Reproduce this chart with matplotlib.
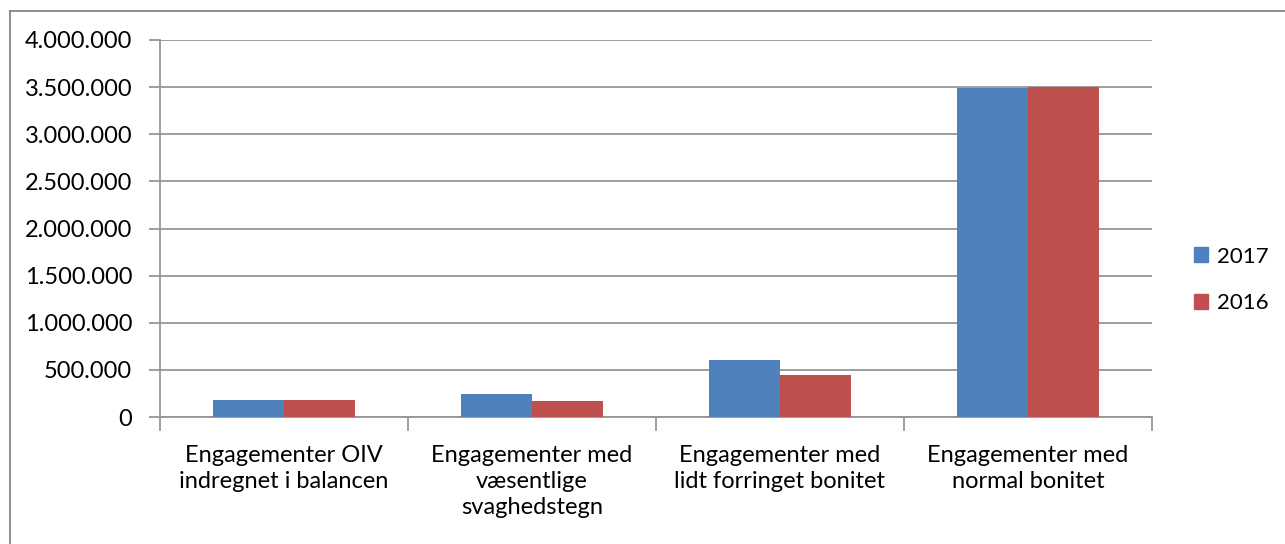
import matplotlib
matplotlib.use("Agg")
import matplotlib.pyplot as plt
import numpy as np
from matplotlib.ticker import FuncFormatter, MultipleLocator
from matplotlib.lines import Line2D

categories = ["Engagementer OIV\nindregnet i balancen",
              "Engagementer med\nvæsentlige\nsvaghedstegn",
              "Engagementer med\nlidt forringet bonitet",
              "Engagementer med\nnormal bonitet"]
series_names = ["2017", "2016"]
values_2017 = [185000, 246000, 600000, 3490000]
values_2016 = [180000, 175000, 446000, 3505000]
colors = ["#4F81BD", "#C0504D"]

plt.rcParams['font.family'] = ['Lato', 'DejaVu Sans']

W, H = 1285, 544
fig = plt.figure(figsize=(W/100, H/100), dpi=100)
ax = fig.add_axes([160/W, 1-417/H, (1152-160)/W, (417-40)/H])

x = np.arange(len(categories))
bw = 0.285
ax.bar(x - bw/2, values_2017, bw, color=colors[0], label=series_names[0], zorder=3)
ax.bar(x + bw/2, values_2016, bw, color=colors[1], label=series_names[1], zorder=3)

ax.set_xlim(-0.5, len(categories) - 0.5)
ax.set_ylim(0, 4000000)
ax.yaxis.set_major_locator(MultipleLocator(500000))
ax.yaxis.set_major_formatter(FuncFormatter(lambda v, p: f"{int(v):,}".replace(",", ".")))
ax.grid(axis='y', color='#969696', linewidth=1.3, zorder=0)
ax.set_axisbelow(True)

for s in ['top', 'right']:
    ax.spines[s].set_visible(False)
for s in ['left', 'bottom']:
    ax.spines[s].set_color('#969696')
    ax.spines[s].set_linewidth(1.3)

ax.set_xticks(np.arange(len(categories) + 1) - 0.5, minor=False)
ax.set_xticklabels([])
ax.set_xticks(x, minor=True)
ax.set_xticklabels(categories, minor=True, fontsize=17, linespacing=1.3)
ax.tick_params(axis='x', which='major', length=10, color='#969696', width=1.3)
ax.tick_params(axis='x', which='minor', length=0, pad=20)
ax.tick_params(axis='y', length=8, color='#969696', width=1.3, labelsize=17, pad=12)
for lab in ax.get_xticklabels(minor=True):
    lab.set_verticalalignment('top')

handles = [plt.Rectangle((0, 0), 1, 1, color=c) for c in colors]
fig.legend(handles, series_names, loc='center left', bbox_to_anchor=(1174/W, 1-280/H),
           frameon=False, fontsize=16, handlelength=0.65, handleheight=0.65,
           handletextpad=0.4, labelspacing=1.2)

fig.add_artist(Line2D([10/W, 10/W], [0, 1-11/H], transform=fig.transFigure,
                      color='#868686', linewidth=1.3))
fig.add_artist(Line2D([10/W, 1], [1-11/H, 1-11/H], transform=fig.transFigure,
                      color='#868686', linewidth=1.3))

fig.savefig("out.png", dpi=100)
